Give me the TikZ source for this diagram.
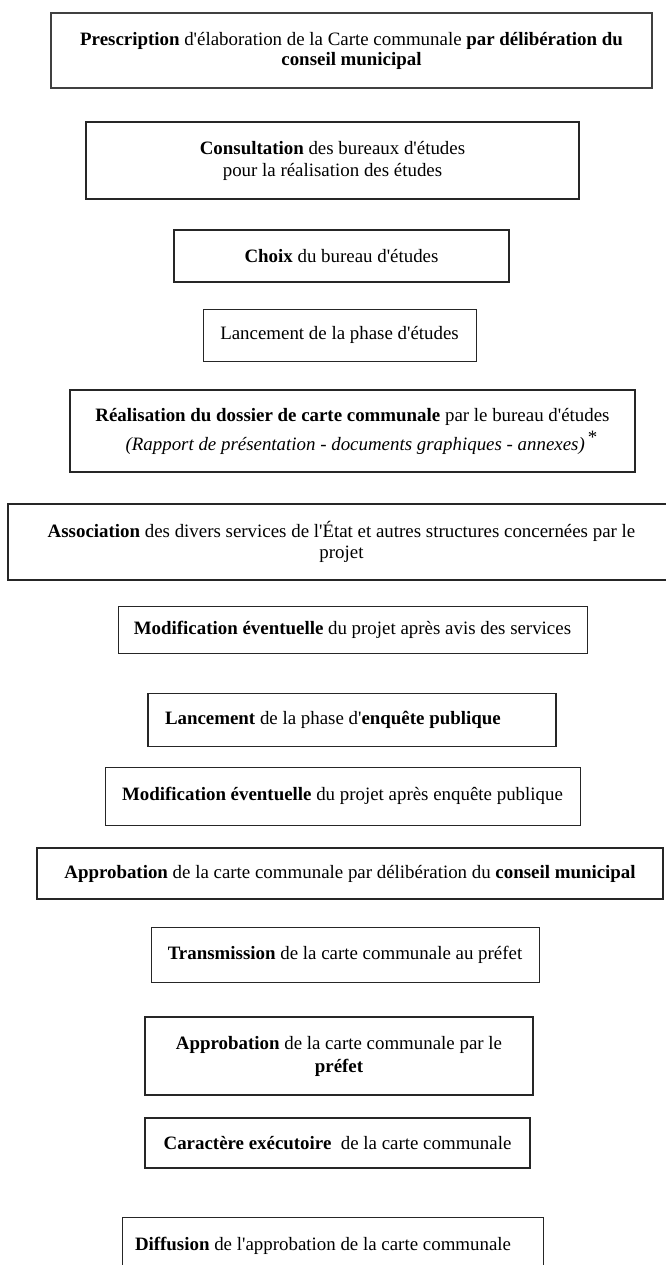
\documentclass[tikz,border=0pt]{standalone}
\usepackage{fontspec}
\setmainfont{Liberation Serif}[Ligatures=TeXOff]

\tikzset{
  etape/.style={draw=black!85, line width=0.9pt, inner sep=0pt, align=center,
    font=\fontsize{18.9}{20}\selectfont},
  etapeforte/.style={etape, line width=1.8pt},
}

\begin{document}
\begin{tikzpicture}[x=1pt, y=-1pt]
    \useasboundingbox (0,0) rectangle (665,1265);

    % Etudes
    \node[etape, line width=1.2pt, draw=black!75, minimum width=601pt, minimum height=75pt] (presc) at (351.5,50.5)
        {\textbf{Prescription} d'élaboration de la Carte communale \textbf{par délibération du}\\ \textbf{conseil municipal}};
    \node[etapeforte, minimum width=493pt, minimum height=77pt] (consult) at (332.5,160.5)
        {\textbf{Consultation} des bureaux d'études\\[2pt] pour la réalisation des études};
    \node[etapeforte, minimum width=335pt, minimum height=52pt] (choix) at (341.5,256)
        {\textbf{Choix} du bureau d'études};
    \node[etape, minimum width=273pt, minimum height=52pt] (lanceetud) at (339.5,335)
        {Lancement de la phase d'études};
    \node[etapeforte, minimum width=565pt, minimum height=82pt] (realis) at (352.5,431)
        {\textbf{Réalisation du dossier de carte communale} par le bureau d'études\\[5pt]
         \hspace*{18pt}\textit{(Rapport de présentation - documents graphiques - annexes)}\,\raisebox{0.35em}{*}};

    % Association et enquete
    \node[etapeforte, minimum width=667pt, minimum height=76pt] (assoc) at (341.5,542)
        {\textbf{Association} des divers services de l'État et autres structures concernées par le\\[1pt] projet};
    \node[etape, minimum width=469pt, minimum height=47pt] (modserv) at (352.5,630)
        {\textbf{Modification éventuelle} du projet après avis des services};
    \node[etapeforte, minimum height=53pt, text width=374pt, inner xsep=17pt, align=flush left] (lanceenq) at (352,720)
        {\textbf{Lancement} de la phase d'\textbf{enquête publique}};
    \node[etape, minimum width=475pt, minimum height=58pt] (modenq) at (342.5,796)
        {\textbf{Modification éventuelle} du projet après enquête publique};

    % Approbation
    \node[etapeforte, minimum width=626pt, minimum height=51pt] (approcm) at (350,873.5)
        {\textbf{Approbation} de la carte communale par délibération du \textbf{conseil municipal}};
    \node[etape, minimum width=388pt, minimum height=55pt] (transm) at (345,954.5)
        {\textbf{Transmission} de la carte communale au préfet};
    \node[etapeforte, minimum width=388pt, minimum height=78pt] (approprf) at (339,1056)
        {\textbf{Approbation} de la carte communale par le\\[3pt] \textbf{préfet}};
    \node[etape, line width=1.4pt, minimum width=385pt, minimum height=50pt] (caract) at (337.5,1143)
        {\textbf{Caractère exécutoire}\ \ de la carte communale};
    \node[etape, minimum height=58pt, text width=395pt, inner xsep=13pt, align=flush left] (diffus) at (332.5,1246)
        {\textbf{Diffusion} de l'approbation de la carte communale};
\end{tikzpicture}
\end{document}
